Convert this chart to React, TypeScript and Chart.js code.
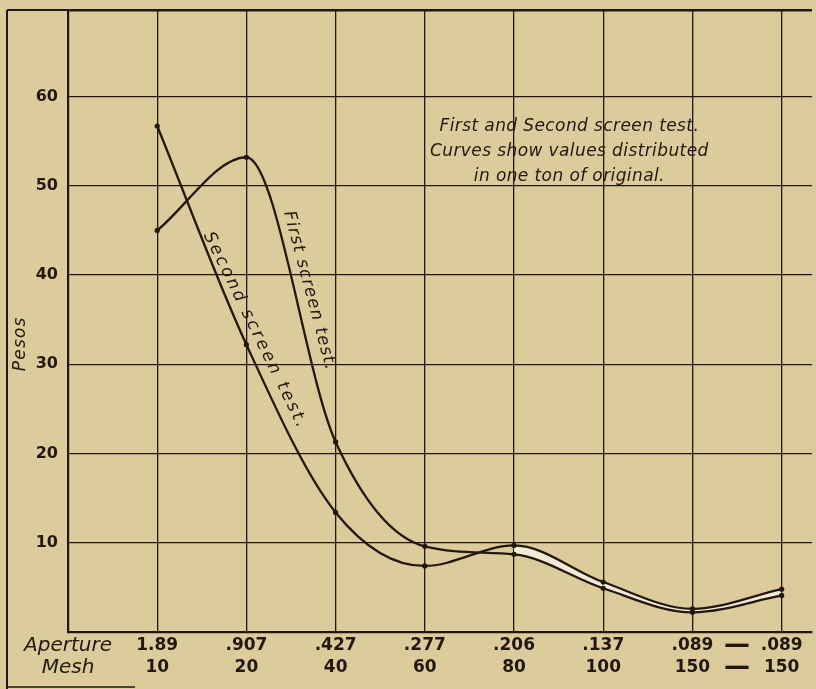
import React, { useEffect, useRef } from 'react';
import { Chart, registerables } from 'chart.js';

Chart.register(...registerables);

// ---- data ----
const apertureLabels = ['1.89', '.907', '.427', '.277', '.206', '.137', '.089', '.089'];
const meshLabels = ['10', '20', '40', '60', '80', '100', '150', '150'];
const firstScreenTest = [45.0, 53.2, 21.3, 9.6, 8.7, 4.9, 2.2, 4.1];
const secondScreenTest = [56.7, 32.2, 13.4, 7.4, 9.7, 5.6, 2.6, 4.8];
const yTickValues = [10, 20, 30, 40, 50, 60];
const rowHeaders = ['Aperture', 'Mesh'];
const noteLines = ['First and Second screen test.', 'Curves show values distributed', 'in one ton of original.'];
const yTitle = 'Pesos';
const firstLabel = 'First screen test.';
const secondLabel = 'Second screen test.';

// ---- styling ----
const BG = '#dccb9b';
const INK = '#211911';
const GAP = '#f2ead3';
const Y_MAX = 69.7;
const X_MAX = 8.34;
const FONT = '"DejaVu Sans", sans-serif';

const xTickValues = [0, ...apertureLabels.map((_, i) => i + 1)];
const dashPos = (apertureLabels.length - 1 + apertureLabels.length) / 2;

const decor = {
  id: 'decor',
  beforeDraw(chart: any) {
    const { ctx, width, height } = chart;
    ctx.save();
    ctx.fillStyle = BG;
    ctx.fillRect(0, 0, width, height);
    ctx.restore();
  },
  afterDraw(chart: any) {
    const { ctx, chartArea, scales } = chart;
    const x = scales.x;
    const y = scales.y;
    ctx.save();
    ctx.strokeStyle = INK;
    ctx.lineWidth = 2;
    ctx.beginPath();
    ctx.moveTo(7, chartArea.top);
    ctx.lineTo(chartArea.left, chartArea.top);
    ctx.moveTo(7, chartArea.top);
    ctx.lineTo(7, chart.height);
    ctx.stroke();
    ctx.lineWidth = 1.5;
    ctx.beginPath();
    ctx.moveTo(7, chart.height - 2);
    ctx.lineTo(135, chart.height - 2);
    ctx.stroke();

    ctx.fillStyle = INK;
    // y title
    ctx.save();
    ctx.font = 'italic 17px ' + FONT;
    (ctx as any).letterSpacing = '1.2px';
    ctx.textAlign = 'center';
    ctx.textBaseline = 'middle';
    ctx.translate(21, y.getPixelForValue(32.3));
    ctx.rotate(-Math.PI / 2);
    ctx.fillText(yTitle, 0, 0);
    ctx.restore();

    // note block
    ctx.save();
    ctx.font = 'italic 17px ' + FONT;
    (ctx as any).letterSpacing = '0.4px';
    ctx.textAlign = 'center';
    ctx.textBaseline = 'middle';
    const noteY = [56.65, 53.85, 51.05];
    noteLines.forEach((t, i) => {
      ctx.fillText(t, x.getPixelForValue(5.62), y.getPixelForValue(noteY[i]));
    });
    ctx.restore();

    // curve labels
    const drawRot = (t: string, vx: number, vy: number, deg: number, spacing: string) => {
      ctx.save();
      ctx.font = 'italic 17px ' + FONT;
      (ctx as any).letterSpacing = spacing;
      ctx.textAlign = 'left';
      ctx.textBaseline = 'alphabetic';
      ctx.translate(x.getPixelForValue(vx), y.getPixelForValue(vy));
      ctx.rotate((deg * Math.PI) / 180);
      ctx.fillText(t, 0, 0);
      ctx.restore();
    };
    drawRot(firstLabel, 2.42, 47.0, 75, '1.2px');
    drawRot(secondLabel, 1.52, 44.5, 64, '2.6px');
    ctx.restore();
  },
};

export default function App() {
  const ref = useRef<HTMLCanvasElement | null>(null);

  useEffect(() => {
    if (!ref.current) return;
    const toPts = (arr: number[]) => arr.map((v, i) => ({ x: i + 1, y: v }));
    const chart = new Chart(ref.current, {
      type: 'line',
      data: {
        datasets: [
          {
            label: 'First screen test',
            data: toPts(firstScreenTest),
            borderColor: INK,
            borderWidth: 2.3,
            pointRadius: 2.6,
            pointBackgroundColor: INK,
            pointBorderWidth: 0,
            cubicInterpolationMode: 'monotone',
            fill: false,
          },
          {
            label: 'Second screen test',
            data: toPts(secondScreenTest),
            borderColor: INK,
            borderWidth: 2.3,
            pointRadius: 2.6,
            pointBackgroundColor: INK,
            pointBorderWidth: 0,
            cubicInterpolationMode: 'monotone',
            fill: '-1',
            backgroundColor: 'rgba(0,0,0,0)',
            segment: {
              backgroundColor: (c: any) => (c.p0DataIndex >= 4 ? GAP : 'rgba(0,0,0,0)'),
            },
          } as any,
        ],
      },
      options: {
        animation: false,
        responsive: true,
        maintainAspectRatio: false,
        layout: { padding: { top: 10, left: 0, right: 0, bottom: 0 } },
        plugins: { legend: { display: false }, tooltip: { enabled: false } },
        scales: {
          x: {
            type: 'linear',
            min: 0,
            max: X_MAX,
            afterBuildTicks: (axis: any) => {
              const vals = [...xTickValues, dashPos].sort((a, b) => a - b);
              axis.ticks = vals.map((v) => ({ value: v }));
            },
            afterFit: (s: any) => {
              s.height = 57;
              s.paddingLeft = 0;
              s.paddingRight = 0;
              s.paddingTop = 0;
              s.paddingBottom = 0;
            },
            border: { display: true, color: INK, width: 2.2 },
            grid: {
              drawTicks: false,
              color: (c: any) => (c.tick && (c.tick.value === dashPos || c.tick.value === 0) ? 'rgba(0,0,0,0)' : INK),
              lineWidth: 1.3,
            },
            ticks: {
              autoSkip: false,
              maxRotation: 0,
              minRotation: 0,
              padding: 3,
              color: INK,
              font: (c: any) => {
                const v = c.tick ? c.tick.value : 1;
                if (v === 0) return { family: FONT, style: 'italic', size: 20, lineHeight: '22px' } as any;
                if (v === dashPos) return { family: FONT, weight: 'bold', size: 26, lineHeight: '22px' } as any;
                return { family: FONT, weight: 'bold', size: 17, lineHeight: '22px' } as any;
              },
              callback: (value: any) => {
                const v = Number(value);
                if (v === 0) return rowHeaders;
                if (v === dashPos) return ['—', '—'];
                const i = Math.round(v) - 1;
                if (Number.isInteger(v) && i >= 0 && i < apertureLabels.length) return [apertureLabels[i], meshLabels[i]];
                return '';
              },
            },
          },
          y: {
            type: 'linear',
            min: 0,
            max: Y_MAX,
            afterBuildTicks: (axis: any) => {
              axis.ticks = [0, ...yTickValues, Y_MAX].map((v) => ({ value: v }));
            },
            afterFit: (s: any) => {
              s.width = 68;
              s.paddingTop = 0;
              s.paddingBottom = 0;
              s.paddingLeft = 0;
              s.paddingRight = 0;
            },
            border: { display: true, color: INK, width: 2.2 },
            grid: {
              drawTicks: false,
              color: INK,
              lineWidth: (c: any) => (c.tick && c.tick.value === Y_MAX ? 2.4 : 1.3),
            },
            ticks: {
              padding: 10,
              color: INK,
              font: { family: FONT, weight: 'bold', size: 16 },
              callback: (value: any) => (yTickValues.includes(Number(value)) ? String(value) : ''),
            },
          },
        },
      },
      plugins: [decor],
    } as any);
    return () => chart.destroy();
  }, []);

  return (
    <div style={{ position: 'absolute', left: 0, top: 0, width: 816, height: 689, background: BG }}>
      <canvas ref={ref} />
    </div>
  );
}
